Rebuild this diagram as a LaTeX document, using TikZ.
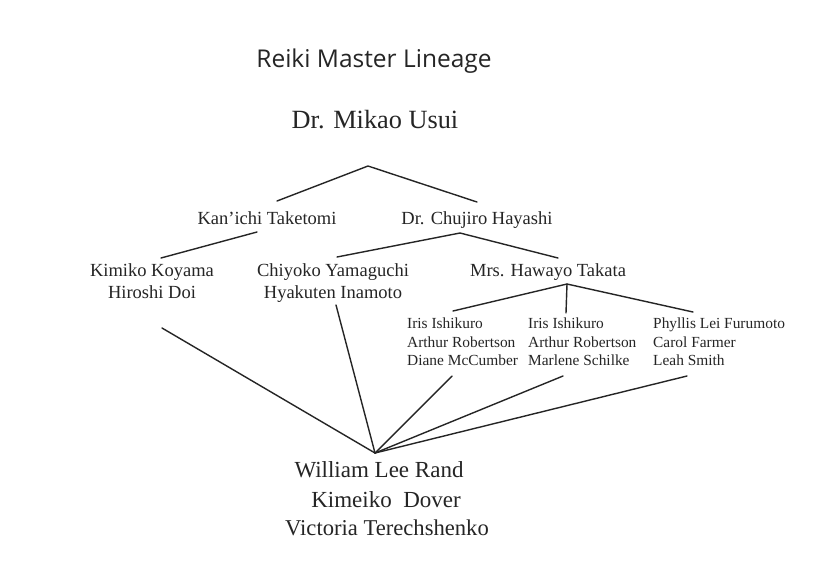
\documentclass[tikz,border=0pt]{standalone}
\usepackage{fontspec}
\setmainfont{Liberation Serif}
\newfontfamily\titlefont{Open Sans}
\definecolor{ink}{HTML}{252525}
\begin{document}
\begin{tikzpicture}[x=1pt,y=-1pt,
  txt/.style={inner sep=0pt,anchor=base,text=ink},
  big/.style={txt,font=\fontsize{26.3}{29}\selectfont},
  mid/.style={txt,font=\fontsize{18.5}{21}\selectfont},
  lrg/.style={txt,font=\fontsize{23}{26}\selectfont},
  sml/.style={txt,anchor=base west,font=\fontsize{15.4}{18}\selectfont},
  link/.style={draw=ink,line width=1.4pt,line cap=round}]
\useasboundingbox[fill=white] (0,0) rectangle (840,582);
% texts
\node[txt,font=\titlefont\fontsize{24.5}{28}\selectfont] (title) at (374,67) {Reiki Master Lineage};
\node[big] (usui) at (375,128) {Dr. Mikao Usui};
\node[mid] (kan) at (267,224) {Kan'ichi Taketomi};
\node[mid] (hay) at (477,224) {Dr. Chujiro Hayashi};
\node[mid] (kim1) at (152,276) {Kimiko Koyama};
\node[mid] (kim2) at (152,298) {Hiroshi Doi};
\node[mid] (chi1) at (333,276) {Chiyoko Yamaguchi};
\node[mid] (chi2) at (333,298) {Hyakuten Inamoto};
\node[mid] (tak) at (548,276) {Mrs. Hawayo Takata};
\node[sml] (a1) at (407,328) {Iris Ishikuro};
\node[sml] (a2) at (407,347) {Arthur Robertson};
\node[sml] (a3) at (407,365) {Diane McCumber};
\node[sml] (b1) at (528,328) {Iris Ishikuro};
\node[sml] (b2) at (528,347) {Arthur Robertson};
\node[sml] (b3) at (528,365) {Marlene Schilke};
\node[sml] (c1) at (653,328) {Phyllis Lei Furumoto};
\node[sml] (c2) at (653,347) {Carol Farmer};
\node[sml] (c3) at (653,365) {Leah Smith};
\node[lrg] (wlr) at (379,477) {William Lee Rand};
\node[lrg] (kd) at (386,507) {Kimeiko\ \ Dover};
\node[txt,font=\fontsize{22.6}{25}\selectfont] (vt) at (387,535) {Victoria Terechshenko};
% connector points
\coordinate (usuiP) at (368,166);
\coordinate (kanT) at (277,201);
\coordinate (hayT) at (477,202);
\coordinate (kanB) at (257,232);
\coordinate (kimT) at (161,258);
\coordinate (hayB) at (460,233);
\coordinate (chiT) at (337,257);
\coordinate (takT) at (558,258);
\coordinate (takB) at (567,284);
\coordinate (aT) at (453,311);
\coordinate (bT) at (566,313);
\coordinate (cT) at (693,312);
\coordinate (kimB) at (162,328);
\coordinate (chiB) at (336,305);
\coordinate (aB) at (452,376);
\coordinate (bB) at (563,376);
\coordinate (cB) at (687,376);
\coordinate (wlrT) at (375,453);
% connectors
\draw[link] (kanT) -- (usuiP) -- (hayT);
\draw[link] (kanB) -- (kimT);
\draw[link] (chiT) -- (hayB) -- (takT);
\draw[link] (aT) -- (takB) -- (cT);
\draw[link] (takB) -- (bT);
\draw[link] (kimB) -- (wlrT);
\draw[link] (chiB) -- (wlrT);
\draw[link] (aB) -- (wlrT);
\draw[link] (bB) -- (wlrT);
\draw[link] (cB) -- (wlrT);
\end{tikzpicture}
\end{document}
